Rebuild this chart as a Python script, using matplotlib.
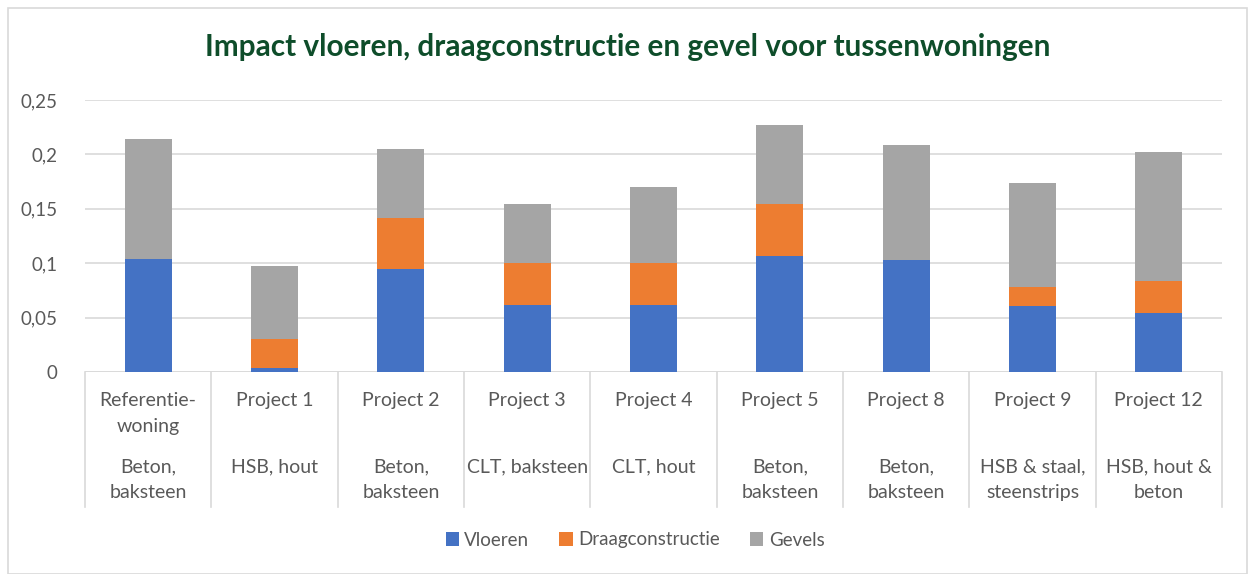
import matplotlib.pyplot as plt
import matplotlib.transforms as mtransforms
from matplotlib.patches import Rectangle

plt.rcParams['font.family'] = ['Lato', 'DejaVu Sans']

projecten = ['Referentie-\nwoning', 'Project 1', 'Project 2', 'Project 3', 'Project 4',
             'Project 5', 'Project 8', 'Project 9', 'Project 12']
bouwwijze = ['Beton,\nbaksteen', 'HSB, hout', 'Beton,\nbaksteen', 'CLT, baksteen', 'CLT, hout',
             'Beton,\nbaksteen', 'Beton,\nbaksteen', 'HSB & staal,\nsteenstrips', 'HSB, hout &\nbeton']

vloeren = [0.104, 0.004, 0.095, 0.062, 0.062, 0.107, 0.1025, 0.061, 0.054]
draag = [0.0, 0.026, 0.047, 0.038, 0.038, 0.047, 0.0, 0.0175, 0.0295]
gevels = [0.1105, 0.0675, 0.063, 0.0545, 0.070, 0.073, 0.1065, 0.095, 0.119]

blauw = '#4472C4'
oranje = '#ED7D31'
grijs = '#A5A5A5'
tekst = '#595959'
lijn = '#D9D9D9'

fig = plt.figure(figsize=(12.56, 5.74), dpi=100)
ax = fig.add_axes([85/1256, 1-372/574, (1222-85)/1256, 272/574])

x = list(range(len(projecten)))
w = 0.37
onder2 = [a + b for a, b in zip(vloeren, draag)]
ax.bar(x, vloeren, w, color=blauw, label='Vloeren', zorder=3)
ax.bar(x, draag, w, bottom=vloeren, color=oranje, label='Draagconstructie', zorder=3)
ax.bar(x, gevels, w, bottom=onder2, color=grijs, label='Gevels', zorder=3)

ax.set_xlim(-0.5, len(projecten) - 0.5)
ax.set_ylim(0, 0.25)
ax.set_yticks([0, 0.05, 0.1, 0.15, 0.2, 0.25])
ax.set_yticklabels(['0', '0,05', '0,1', '0,15', '0,2', '0,25'], color=tekst, fontsize=13.5)
ax.tick_params(axis='y', length=0, pad=20)
ax.set_xticks([])
ax.grid(axis='y', color=lijn, lw=1.2, zorder=0)
for s in ax.spines.values():
    s.set_visible(False)
ax.axhline(0, color=lijn, lw=1.2, zorder=2)

# scheidingslijnen tussen categorieen
trans = mtransforms.blended_transform_factory(ax.transData, ax.transAxes)
for i in range(len(projecten) + 1):
    ax.plot([i - 0.5, i - 0.5], [0, -135/272], color=lijn, lw=1.2, transform=trans, clip_on=False)

for i in x:
    ax.text(i, -20/272, projecten[i], transform=trans, ha='center', va='top',
            fontsize=14, color=tekst, linespacing=1.66)
    ax.text(i, -86/272, bouwwijze[i], transform=trans, ha='center', va='top',
            fontsize=14, color=tekst, linespacing=1.66)

fig.text(0.5, 1-47/574, 'Impact vloeren, draagconstructie en gevel voor tussenwoningen',
         ha='center', va='center', fontsize=21.4, fontweight='bold', color='#0E4D2A')

fig.legend(loc='center', bbox_to_anchor=(635/1256, 1-540/574), ncol=3, frameon=False,
           fontsize=13.5, labelcolor=tekst, handlelength=0.7, handleheight=0.7,
           handletextpad=0.3, columnspacing=1.6)

fig.patches.append(Rectangle((8/1256, 0), 1239/1256, 1-8/574, transform=fig.transFigure,
                             fill=False, edgecolor=lijn, lw=1.2))

fig.savefig('out.png', dpi=100)
